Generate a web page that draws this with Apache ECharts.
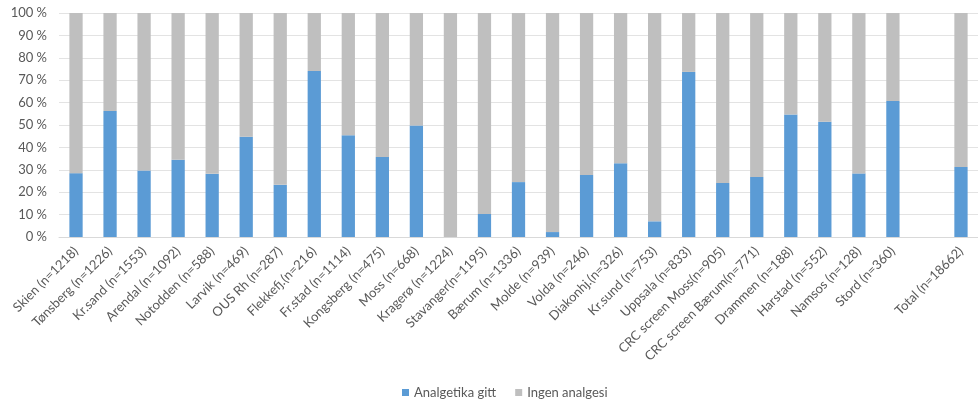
<!DOCTYPE html>
<html>
<head>
<meta charset="utf-8">
<script src="https://cdn.jsdelivr.net/npm/echarts@6/dist/echarts.min.js"></script>
<style>
  html, body { margin: 0; padding: 0; background: #ffffff; }
  #chart { width: 978px; height: 400px; }
</style>
</head>
<body>
<div id="chart"></div>
<script>
// Sites (with number of patients); the empty entry leaves a gap before the total
const categories = [
  'Skien (n=1218)', 'Tønsberg (n=1226)', 'Kr.sand (n=1553)', 'Arendal (n=1092)',
  'Notodden (n=588)', 'Larvik (n=469)', 'OUS Rh (n=287)', 'Flekkefj.(n=216)',
  'Fr.stad (n=1114)', 'Kongsberg (n=475)', 'Moss (n=668)', 'Kragerø (n=1224)',
  'Stavanger(n=1195)', 'Bærum (n=1336)', 'Molde (n=939)', 'Volda (n=246)',
  'Diakonhj.(n=326)', 'Kr.sund (n=753)', 'Uppsala (n=833)', 'CRC screen Moss(n=905)',
  'CRC screen Bærum(n=771)', 'Drammen (n=188)', 'Harstad (n=552)', 'Namsos (n=128)',
  'Stord (n=360)', '', 'Total (n=18662)'
];

// Share of patients given analgesics (%)
const analgetikaGitt = [
  28.5, 56.3, 29.7, 34.5, 28.2, 44.7, 23.3, 74.1,
  45.4, 35.7, 49.8, 0, 10.3, 24.5, 2.2, 27.7,
  32.9, 7.0, 73.7, 24.1, 26.8, 54.7, 51.4, 28.4,
  60.7, null, 31.2
];

// Share without analgesics (%)
const ingenAnalgesi = [
  71.5, 43.7, 70.3, 65.5, 71.8, 55.3, 76.7, 25.9,
  54.6, 64.3, 50.2, 100, 89.7, 75.5, 97.8, 72.3,
  67.1, 93.0, 26.3, 75.9, 73.2, 45.3, 48.6, 71.6,
  39.3, null, 68.8
];

const yTicks = [0, 10, 20, 30, 40, 50, 60, 70, 80, 90, 100];

const textColor = '#595959';
const fontFamily = 'Lato, "Open Sans", sans-serif';

const chart = echarts.init(document.getElementById('chart'), null, { renderer: 'canvas' });

chart.setOption({
  animation: false,
  textStyle: { fontFamily: fontFamily, color: textColor },
  grid: { left: 59, right: -6, top: 13, height: 224, containLabel: false },
  legend: {
    top: 381,
    left: 397,
    itemWidth: 7,
    itemHeight: 7,
    itemGap: 19,
    icon: 'rect',
    textStyle: { color: textColor, fontSize: 13, fontFamily: fontFamily },
    data: ['Analgetika gitt', 'Ingen analgesi']
  },
  xAxis: {
    type: 'category',
    data: categories,
    axisTick: { show: false },
    axisLine: { lineStyle: { color: '#d9d9d9' } },
    axisLabel: {
      interval: 0,
      rotate: 45,
      color: textColor,
      fontSize: 13,
      margin: 12,
      fontFamily: fontFamily
    }
  },
  yAxis: {
    type: 'value',
    min: 0,
    max: 100,
    interval: 10,
    axisLine: { show: false },
    axisTick: { show: false },
    splitLine: { lineStyle: { color: '#e3e3e3' } },
    axisLabel: {
      color: textColor,
      fontSize: 13,
      margin: 12,
      fontFamily: fontFamily,
      formatter: v => (yTicks.includes(v) ? v + ' %' : '')
    }
  },
  series: [
    {
      name: 'Analgetika gitt',
      type: 'bar',
      stack: 'andel',
      barWidth: '39%',
      itemStyle: { color: '#5b9bd5' },
      data: analgetikaGitt
    },
    {
      name: 'Ingen analgesi',
      type: 'bar',
      stack: 'andel',
      barWidth: '39%',
      itemStyle: { color: '#bfbfbf' },
      data: ingenAnalgesi
    }
  ]
});
</script>
</body>
</html>
